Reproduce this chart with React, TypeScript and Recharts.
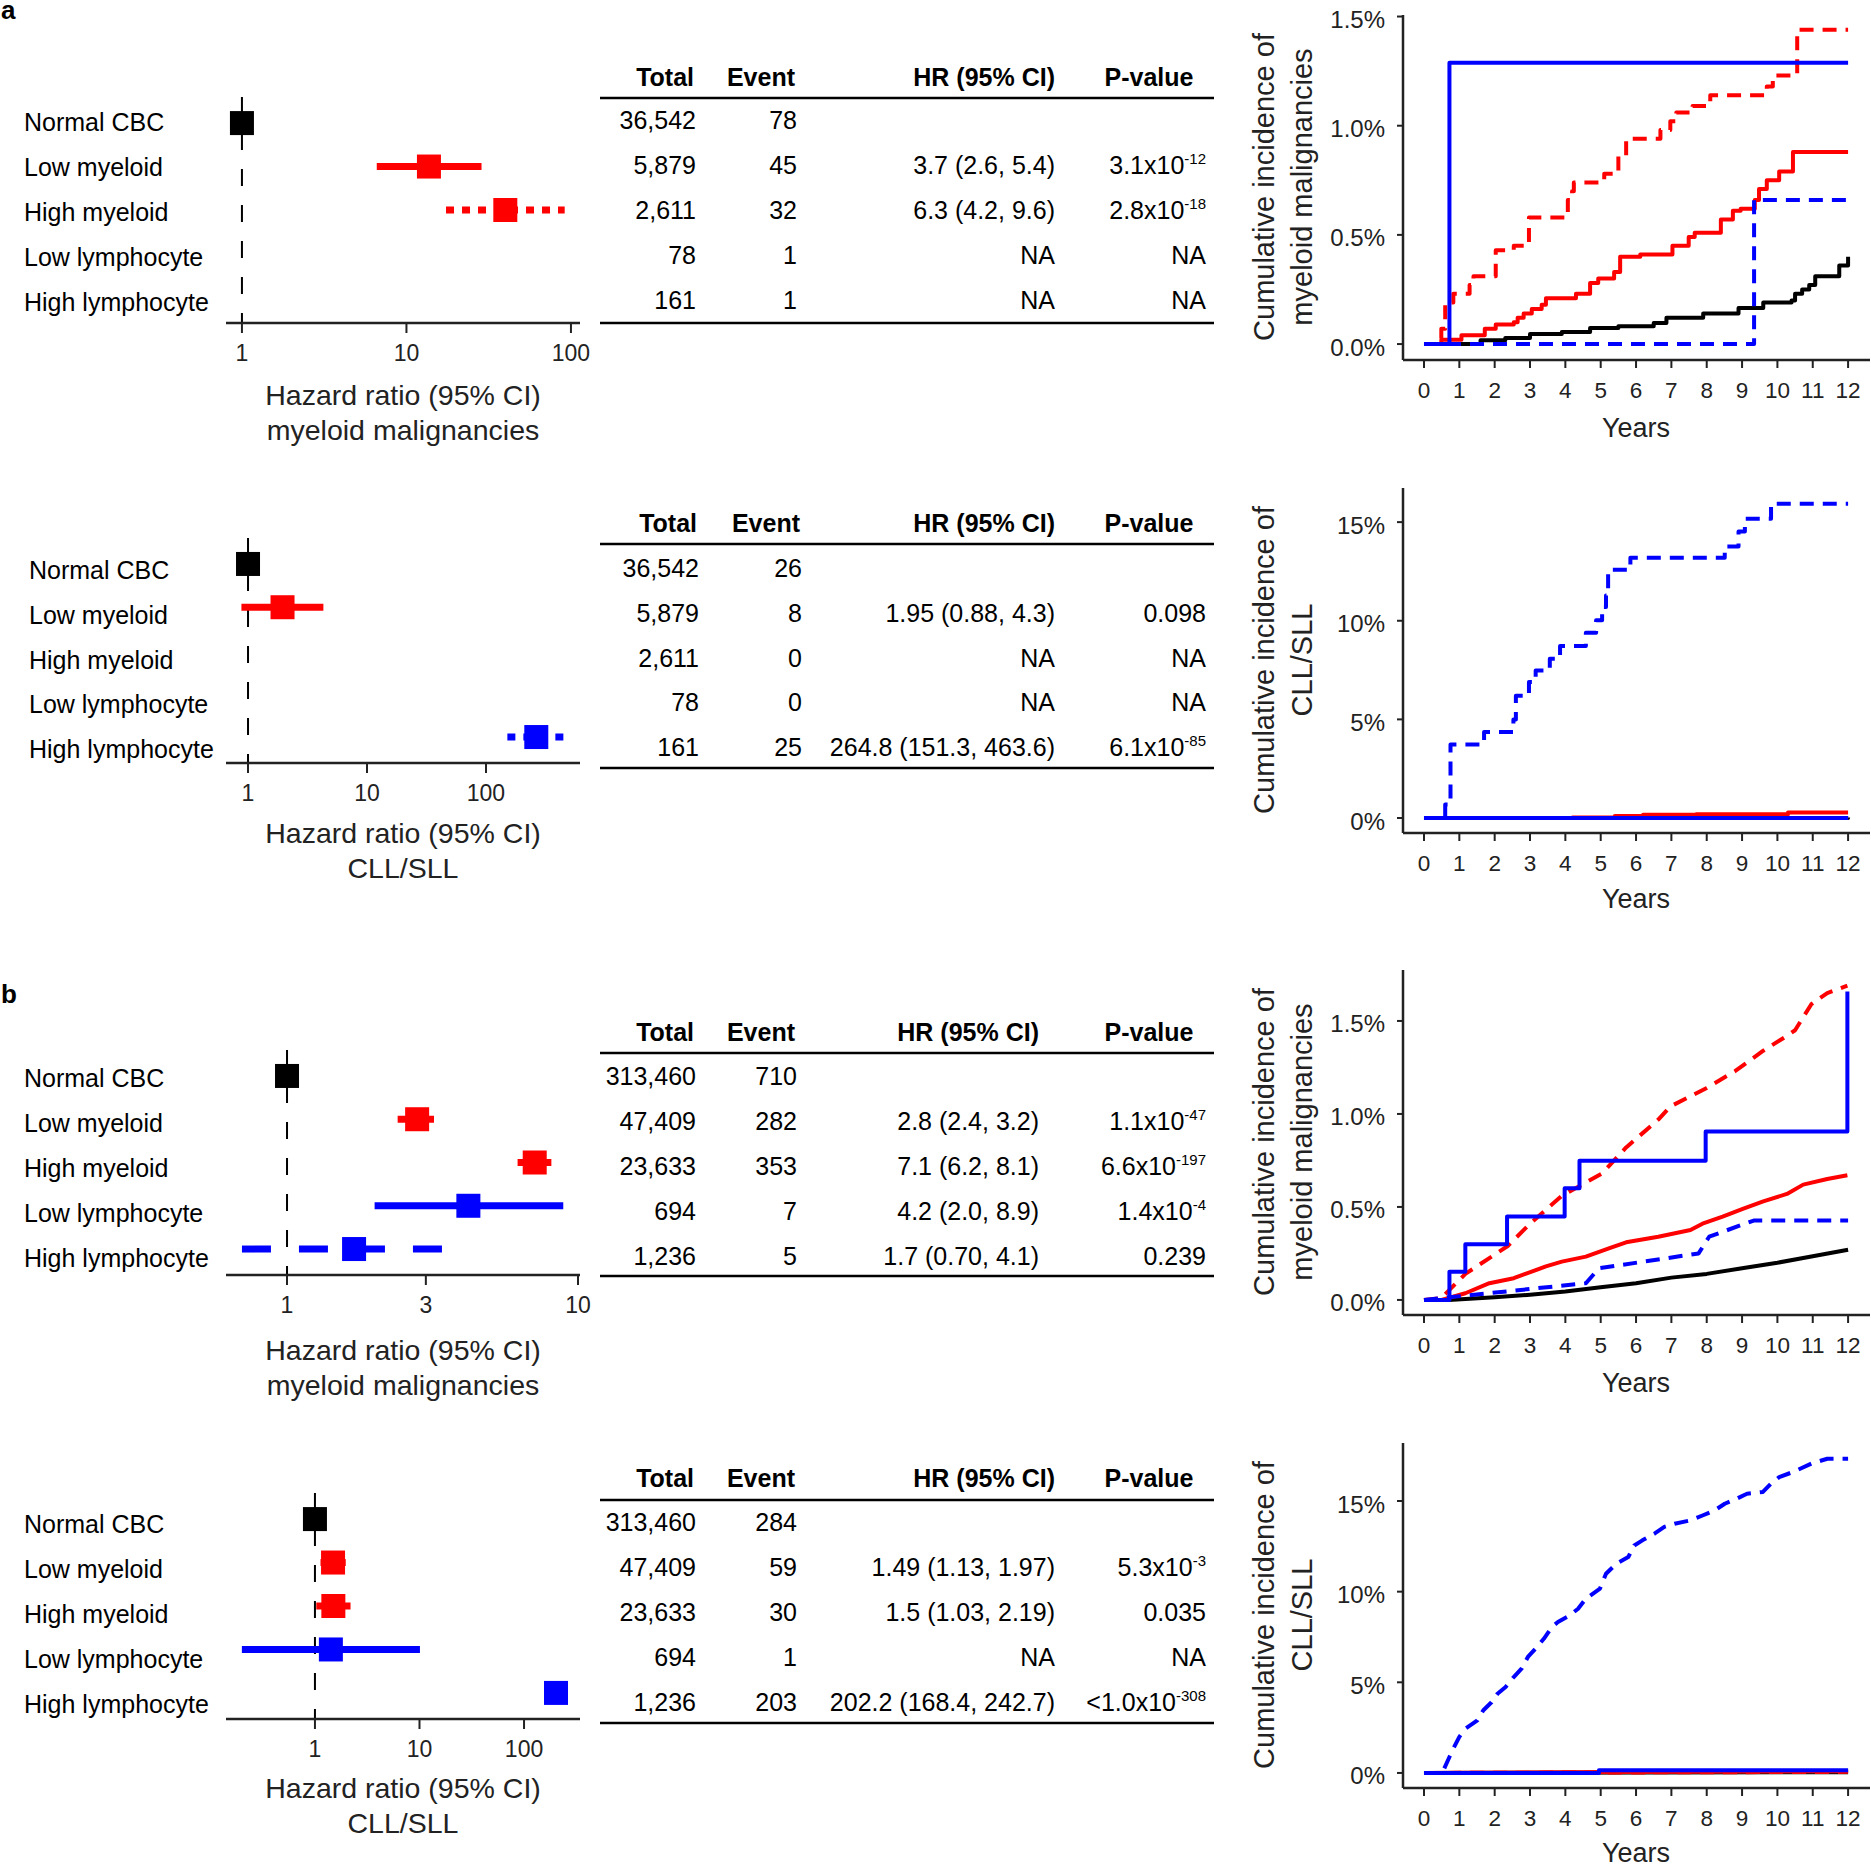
import React from "react";
import { ComposedChart, LineChart, Line, Scatter, XAxis, YAxis } from "recharts";

const FONT = "'Liberation Sans', Arial, Helvetica, sans-serif";
const RED = "#FF0000";
const BLUE = "#0000FF";
const BLACK = "#000000";
const INK = "#222222";

const ROWS = ["Normal CBC", "Low myeloid", "High myeloid", "Low lymphocyte", "High lymphocyte"];
const ROW_COLORS = [BLACK, RED, RED, BLUE, BLUE];

// forest plots: point estimate, lower, upper per row (null = not drawn)
const A1_EST = [1, 13.7, 39.9, null, null];
const A1_LO = [null, 6.6, 17.4, null, null];
const A1_HI = [null, 28.6, 91.6, null, null];
const A1_LTY = ["solid", "solid", "dotted", "solid", "solid"];

const A2_EST = [1, 1.95, null, null, 264.8];
const A2_LO = [null, 0.88, null, null, 151.3];
const A2_HI = [null, 4.3, null, null, 463.6];
const A2_LTY = ["solid", "solid", "solid", "solid", "dotted"];

const B1_EST = [1, 2.8, 7.1, 4.2, 1.7];
const B1_LO = [null, 2.4, 6.2, 2.0, 0.7];
const B1_HI = [null, 3.2, 8.1, 8.9, 4.1];
const B1_LTY = ["solid", "solid", "solid", "solid", "dashed"];

const B2_EST = [1, 1.49, 1.5, 1.42, 202.2];
const B2_LO = [null, 1.13, 1.03, 0.2, 168.4];
const B2_HI = [null, 1.97, 2.19, 10.1, 242.7];
const B2_LTY = ["solid", "solid", "solid", "solid", "solid"];

// tables
const A1_TOTAL = ["36,542", "5,879", "2,611", "78", "161"];
const A1_EVENT = ["78", "45", "32", "1", "1"];
const A1_HRTXT = ["", "3.7 (2.6, 5.4)", "6.3 (4.2, 9.6)", "NA", "NA"];
const A1_P = ["", "3.1x10^-12", "2.8x10^-18", "NA", "NA"];

const A2_TOTAL = ["36,542", "5,879", "2,611", "78", "161"];
const A2_EVENT = ["26", "8", "0", "0", "25"];
const A2_HRTXT = ["", "1.95 (0.88, 4.3)", "NA", "NA", "264.8 (151.3, 463.6)"];
const A2_P = ["", "0.098", "NA", "NA", "6.1x10^-85"];

const B1_TOTAL = ["313,460", "47,409", "23,633", "694", "1,236"];
const B1_EVENT = ["710", "282", "353", "7", "5"];
const B1_HRTXT = ["", "2.8 (2.4, 3.2)", "7.1 (6.2, 8.1)", "4.2 (2.0, 8.9)", "1.7 (0.70, 4.1)"];
const B1_P = ["", "1.1x10^-47", "6.6x10^-197", "1.4x10^-4", "0.239"];

const B2_TOTAL = ["313,460", "47,409", "23,633", "694", "1,236"];
const B2_EVENT = ["284", "59", "30", "1", "203"];
const B2_HRTXT = ["", "1.49 (1.13, 1.97)", "1.5 (1.03, 2.19)", "NA", "202.2 (168.4, 242.7)"];
const B2_P = ["", "5.3x10^-3", "0.035", "NA", "<1.0x10^-308"];

// cumulative incidence curves, [years, percent]
const A1_NORMAL = [[0, 0], [0.7, 0], [1.6, 0.017], [2.3, 0.028], [3.0, 0.046], [3.9, 0.055], [4.7, 0.074], [5.5, 0.081], [6.5, 0.096], [6.86, 0.12], [7.9, 0.14], [8.9, 0.165], [9.6, 0.19], [10.4, 0.2], [10.5, 0.23], [10.7, 0.25], [10.9, 0.27], [11.07, 0.31], [11.7, 0.31], [11.75, 0.36], [11.97, 0.36], [12, 0.4]];
const A1_LOWMYE = [[0, 0], [0.49, 0.02], [1.06, 0.04], [1.72, 0.07], [2.03, 0.09], [2.54, 0.1], [2.65, 0.12], [2.82, 0.14], [3.05, 0.16], [3.33, 0.18], [3.45, 0.21], [4.3, 0.23], [4.7, 0.28], [4.93, 0.3], [5.38, 0.33], [5.55, 0.4], [6.12, 0.41], [7.03, 0.45], [7.49, 0.49], [7.66, 0.51], [8.4, 0.57], [8.74, 0.61], [8.96, 0.62], [9.36, 0.66], [9.48, 0.71], [9.7, 0.75], [10.05, 0.79], [10.44, 0.88], [12, 0.88]];
const A1_HIGHMYE = [[0, 0], [0.49, 0.07], [0.6, 0.19], [0.83, 0.23], [1.29, 0.27], [1.4, 0.31], [2.03, 0.43], [2.54, 0.45], [2.97, 0.58], [4.07, 0.66], [4.19, 0.7], [4.24, 0.74], [5.1, 0.78], [5.5, 0.86], [5.72, 0.94], [6.69, 0.98], [6.97, 1.02], [7.14, 1.06], [7.6, 1.09], [8.1, 1.14], [9.7, 1.18], [9.87, 1.23], [10.56, 1.44], [12, 1.44]];
const A1_LOWLYM = [[0, 0], [0.72, 1.288], [12, 1.288]];
const A1_HIGHLYM = [[0, 0], [9.34, 0.66], [12, 0.66]];

const A2_NORMAL = [[0, 0], [12, 0.03]];
const A2_LOWMYE = [[0, 0], [4.2, 0.03], [5.4, 0.1], [6.2, 0.16], [7.7, 0.19], [10.3, 0.28], [12, 0.28]];
const A2_HIGHMYE = [[0, 0], [12, 0]];
const A2_LOWLYM = [[0, 0], [12, 0]];
const A2_HIGHLYM = [[0, 0], [0.6, 0.68], [0.75, 3.73], [1.7, 4.36], [2.53, 5.0], [2.6, 6.2], [2.97, 6.9], [3.16, 7.48], [3.56, 8.07], [3.85, 8.72], [4.58, 9.39], [4.87, 10.02], [5.04, 10.7], [5.15, 11.28], [5.21, 12.58], [5.84, 13.19], [8.51, 13.77], [8.9, 14.53], [9.08, 15.17], [9.82, 15.93], [12, 15.93]];

const B1_NORMAL = [[0, 0], [0.7, 0], [2, 0.015], [3, 0.028], [4, 0.045], [5, 0.068], [6, 0.09], [7, 0.12], [8, 0.14], [9, 0.17], [10, 0.2], [11, 0.235], [12, 0.27]];
const B1_LOWMYE = [[0, 0], [0.5, 0], [1.17, 0.036], [1.85, 0.09], [2.54, 0.117], [3.45, 0.18], [3.9, 0.206], [4.58, 0.233], [5.27, 0.28], [5.72, 0.31], [6.63, 0.34], [7.54, 0.376], [7.88, 0.41], [8.45, 0.448], [9.02, 0.49], [9.6, 0.53], [10.27, 0.57], [10.73, 0.62], [11.41, 0.65], [11.98, 0.67]];
const B1_HIGHMYE = [[0, 0], [0.49, 0.01], [1.17, 0.14], [2.37, 0.29], [3.0, 0.41], [3.9, 0.56], [5.04, 0.68], [5.72, 0.82], [6.63, 0.97], [6.97, 1.04], [8.0, 1.14], [8.8, 1.23], [9.6, 1.34], [10.27, 1.42], [10.5, 1.45], [10.96, 1.59], [11.41, 1.65], [11.98, 1.69]];
const B1_LOWLYM = [[0, 0], [0.72, 0.152], [1.17, 0.3], [2.35, 0.448], [3.98, 0.6], [4.4, 0.749], [7.97, 0.905], [11.98, 1.658]];
const B1_HIGHLYM = [[0, 0], [4.58, 0.09], [4.95, 0.17], [7.77, 0.25], [8.07, 0.34], [9.33, 0.427], [12, 0.427]];

const B2_NORMAL = [[0, 0], [12, 0.04]];
const B2_LOWMYE = [[0, 0], [1, 0.01], [4, 0.04], [8, 0.07], [12, 0.1]];
const B2_HIGHMYE = [[0, 0], [12, 0.06]];
const B2_LOWLYM = [[0, 0], [4.95, 0.15], [12, 0.15]];
const B2_HIGHLYM = [[0, 0], [0.5, 0], [0.55, 0.15], [0.72, 0.88], [0.83, 1.34], [1.0, 1.99], [1.17, 2.44], [1.51, 2.9], [1.68, 3.46], [1.91, 3.9], [2.08, 4.37], [2.31, 4.74], [2.54, 5.29], [2.76, 5.75], [2.94, 6.4], [3.16, 6.86], [3.39, 7.4], [3.62, 8.05], [3.79, 8.33], [4.13, 8.7], [4.36, 9.06], [4.58, 9.61], [4.98, 10.17], [5.15, 10.99], [5.44, 11.54], [5.78, 11.91], [5.95, 12.55], [6.18, 12.83], [6.52, 13.2], [6.8, 13.57], [7.09, 13.75], [7.54, 13.93], [7.88, 14.2], [8.23, 14.49], [8.51, 14.85], [8.85, 15.13], [9.14, 15.4], [9.59, 15.5], [9.82, 15.96], [10.05, 16.32], [10.44, 16.6], [10.96, 17.06], [11.41, 17.33], [12, 17.33]];

const YEARS = [0, 1, 2, 3, 4, 5, 6, 7, 8, 9, 10, 11, 12];

const DASH: Record<string, string | undefined> = { solid: undefined, dotted: "8 8", dashed: "29 28" };

const toPts = (arr: number[][]) => arr.map(([t, v]) => ({ t, v }));

function Square(props: any) {
  const { cx, cy, payload } = props;
  if (cx == null || cy == null) return <g />;
  return <rect x={cx - 12} y={cy - 12} width={24} height={24} fill={payload.color} />;
}

function Forest({ top, bottom, domain, ticks, est, lo, hi, lty }: any) {
  const h = bottom - top;
  const pts = est
    .map((e: number | null, i: number) => (e == null ? null : { x: e, y: i + 1, color: ROW_COLORS[i] }))
    .filter(Boolean);
  return (
    <div style={{ position: "absolute", left: 0, top: top - 10 }}>
      <ComposedChart width={600} height={h + 70} margin={{ top: 10, right: 20, bottom: 0, left: 226 }}>
        <XAxis
          type="number"
          dataKey="x"
          scale="log"
          domain={domain}
          ticks={ticks}
          interval={0}
          allowDataOverflow
          height={60}
          tickSize={10}
          tickMargin={12}
          axisLine={{ stroke: INK, strokeWidth: 2.5 }}
          tickLine={{ stroke: INK, strokeWidth: 2 }}
          tick={{ fontSize: 23, fill: INK, fontFamily: FONT }}
          tickFormatter={(v) => String(v)}
        />
        <YAxis type="number" dataKey="y" domain={[0.4, 5.6]} reversed hide allowDataOverflow />
        <Line
          data={[{ x: 1, y: 0.4 }, { x: 1, y: 5.6 }]}
          dataKey="y"
          stroke={BLACK}
          strokeWidth={2}
          strokeDasharray="17 19"
          dot={false}
          isAnimationActive={false}
        />
        {est.map((e: number | null, i: number) =>
          lo[i] == null ? null : (
            <Line
              key={i}
              data={[{ x: lo[i], y: i + 1 }, { x: hi[i], y: i + 1 }]}
              dataKey="y"
              stroke={ROW_COLORS[i]}
              strokeWidth={7}
              strokeDasharray={DASH[lty[i]]}
              dot={false}
              isAnimationActive={false}
            />
          )
        )}
        <Scatter data={pts} shape={<Square />} isAnimationActive={false} />
      </ComposedChart>
    </div>
  );
}

function Incidence({ top, domain, ticks, fmt, normal, lowMye, highMye, lowLym, highLym, smooth }: any) {
  const series = [
    { d: normal, c: BLACK, dash: undefined, curve: smooth ? "linear" : "stepAfter" },
    { d: lowMye, c: RED, dash: undefined, curve: smooth ? "linear" : "stepAfter" },
    { d: highMye, c: RED, dash: "14 9", curve: smooth ? "linear" : "stepAfter" },
    { d: lowLym, c: BLUE, dash: undefined, curve: "stepAfter" },
    { d: highLym, c: BLUE, dash: "14 9", curve: smooth ? "linear" : "stepAfter" },
  ];
  return (
    <div style={{ position: "absolute", left: 1240, top: top - 10 }}>
      <LineChart width={631} height={405} margin={{ top: 10, right: 1, bottom: 0, left: 0 }}>
        <XAxis
          type="number"
          dataKey="t"
          domain={[-0.594, 12.62]}
          ticks={YEARS}
          interval={0}
          allowDataOverflow
          height={50}
          tickSize={8}
          tickMargin={14}
          axisLine={{ stroke: INK, strokeWidth: 2.5 }}
          tickLine={{ stroke: INK, strokeWidth: 2 }}
          tick={{ fontSize: 22.5, fill: INK, fontFamily: FONT }}
        />
        <YAxis
          type="number"
          domain={domain}
          ticks={ticks}
          interval={0}
          allowDataOverflow
          width={163}
          tickSize={6}
          tickMargin={12}
          axisLine={{ stroke: INK, strokeWidth: 2.5 }}
          tickLine={{ stroke: INK, strokeWidth: 2 }}
          tick={{ fontSize: 24, fill: INK, fontFamily: FONT, dy: 3 }}
          tickFormatter={fmt}
        />
        {series.map((s, i) => (
          <Line
            key={i}
            data={toPts(s.d)}
            dataKey="v"
            type={s.curve as any}
            stroke={s.c}
            strokeWidth={4}
            strokeDasharray={s.dash}
            strokeLinejoin="round"
            dot={false}
            activeDot={false}
            isAnimationActive={false}
          />
        ))}
      </LineChart>
    </div>
  );
}

function PText({ x, y, s }: { x: number; y: number; s: string }) {
  const [base, exp] = s.split("^");
  return (
    <text x={x} y={y + 9} textAnchor="end" fontSize={25} fill={BLACK}>
      {base}
      {exp ? (
        <tspan dy={-10} fontSize={15}>
          {exp}
        </tspan>
      ) : null}
    </text>
  );
}

function Table({ head, rule1, rule2, row0, step, labelX, cTotal, cEvent, cHr, total, event, hr, p }: any) {
  const rows = ROWS.map((_, i) => row0 + step * i);
  return (
    <g>
      <text x={cTotal} y={head + 9} textAnchor="end" fontSize={25} fontWeight="bold">Total</text>
      <text x={cEvent} y={head + 9} textAnchor="end" fontSize={25} fontWeight="bold">Event</text>
      <text x={cHr} y={head + 9} textAnchor="end" fontSize={25} fontWeight="bold">HR (95% CI)</text>
      <text x={1149} y={head + 9} textAnchor="middle" fontSize={25} fontWeight="bold">P-value</text>
      <line x1={600} x2={1214} y1={rule1} y2={rule1} stroke={BLACK} strokeWidth={2.5} />
      <line x1={600} x2={1214} y1={rule2} y2={rule2} stroke={BLACK} strokeWidth={2.5} />
      {rows.map((y, i) => (
        <g key={i}>
          <text x={labelX} y={y + 11} fontSize={25} fill={BLACK}>{ROWS[i]}</text>
          <text x={cTotal + 2} y={y + 9} textAnchor="end" fontSize={25}>{total[i]}</text>
          <text x={cEvent + 2} y={y + 9} textAnchor="end" fontSize={25}>{event[i]}</text>
          <text x={cHr} y={y + 9} textAnchor="end" fontSize={25}>{hr[i]}</text>
          {p[i] ? <PText x={1206} y={y} s={p[i]} /> : null}
        </g>
      ))}
    </g>
  );
}

function HrTitle({ y, sub }: { y: number; sub: string }) {
  return (
    <g fontSize={28.5} fill={INK} textAnchor="middle">
      <text x={403} y={y + 10}>Hazard ratio (95% CI)</text>
      <text x={403} y={y + 45}>{sub}</text>
    </g>
  );
}

function IncTitle({ yc, yYears, sub }: { yc: number; yYears: number; sub: string }) {
  return (
    <g fill={INK}>
      <text transform={`translate(1274, ${yc}) rotate(-90)`} textAnchor="middle" fontSize={29}>
        Cumulative incidence of
      </text>
      <text transform={`translate(1312, ${yc}) rotate(-90)`} textAnchor="middle" fontSize={29}>
        {sub}
      </text>
      <text x={1636} y={yYears + 10} textAnchor="middle" fontSize={27}>Years</text>
    </g>
  );
}

export default function App() {
  const pct1 = (v: number) => `${v.toFixed(1)}%`;
  const pct0 = (v: number) => `${v}%`;
  return (
    <div style={{ position: "absolute", left: 0, top: 0, width: 1871, height: 1867, background: "#fff", fontFamily: FONT, overflow: "hidden" }}>
      <Forest top={97} bottom={323} domain={[0.8, 113.5]} ticks={[1, 10, 100]} est={A1_EST} lo={A1_LO} hi={A1_HI} lty={A1_LTY} />
      <Forest top={538} bottom={763} domain={[0.653, 617]} ticks={[1, 10, 100]} est={A2_EST} lo={A2_LO} hi={A2_HI} lty={A2_LTY} />
      <Forest top={1050} bottom={1275} domain={[0.617, 10.16]} ticks={[1, 3, 10]} est={B1_EST} lo={B1_LO} hi={B1_HI} lty={B1_LTY} />
      <Forest top={1493} bottom={1719} domain={[0.141, 343]} ticks={[1, 10, 100]} est={B2_EST} lo={B2_LO} hi={B2_HI} lty={B2_LTY} />

      <Incidence top={15} domain={[-0.073, 1.507]} ticks={[0, 0.5, 1, 1.5]} fmt={pct1}
        normal={A1_NORMAL} lowMye={A1_LOWMYE} highMye={A1_HIGHMYE} lowLym={A1_LOWLYM} highLym={A1_HIGHLYM} />
      <Incidence top={488} domain={[-0.76, 16.73]} ticks={[0, 5, 10, 15]} fmt={pct0}
        normal={A2_NORMAL} lowMye={A2_LOWMYE} highMye={A2_HIGHMYE} lowLym={A2_LOWLYM} highLym={A2_HIGHLYM} />
      <Incidence top={970} domain={[-0.081, 1.774]} ticks={[0, 0.5, 1, 1.5]} fmt={pct1} smooth
        normal={B1_NORMAL} lowMye={B1_LOWMYE} highMye={B1_HIGHMYE} lowLym={B1_LOWLYM} highLym={B1_HIGHLYM} />
      <Incidence top={1443} domain={[-0.83, 18.2]} ticks={[0, 5, 10, 15]} fmt={pct0} smooth
        normal={B2_NORMAL} lowMye={B2_LOWMYE} highMye={B2_HIGHMYE} lowLym={B2_LOWLYM} highLym={B2_HIGHLYM} />

      <svg width={1871} height={1867} style={{ position: "absolute", left: 0, top: 0, pointerEvents: "none" }} fontFamily={FONT}>
        <text x={1} y={19} fontSize={26} fontWeight="bold">a</text>
        <text x={1} y={1003} fontSize={26} fontWeight="bold">b</text>

        <Table head={77} rule1={98} rule2={323} row0={120} step={45} labelX={24} cTotal={694} cEvent={795} cHr={1055}
          total={A1_TOTAL} event={A1_EVENT} hr={A1_HRTXT} p={A1_P} />
        <Table head={523} rule1={544} rule2={768} row0={568} step={44.8} labelX={29} cTotal={697} cEvent={800} cHr={1055}
          total={A2_TOTAL} event={A2_EVENT} hr={A2_HRTXT} p={A2_P} />
        <Table head={1032} rule1={1053} rule2={1276} row0={1076} step={45} labelX={24} cTotal={694} cEvent={795} cHr={1039}
          total={B1_TOTAL} event={B1_EVENT} hr={B1_HRTXT} p={B1_P} />
        <Table head={1478} rule1={1500} rule2={1723} row0={1522} step={45} labelX={24} cTotal={694} cEvent={795} cHr={1055}
          total={B2_TOTAL} event={B2_EVENT} hr={B2_HRTXT} p={B2_P} />

        <HrTitle y={395} sub="myeloid malignancies" />
        <HrTitle y={833} sub="CLL/SLL" />
        <HrTitle y={1350} sub="myeloid malignancies" />
        <HrTitle y={1788} sub="CLL/SLL" />

        <IncTitle yc={187} yYears={427} sub="myeloid malignancies" />
        <IncTitle yc={660} yYears={898} sub="CLL/SLL" />
        <IncTitle yc={1142} yYears={1382} sub="myeloid malignancies" />
        <IncTitle yc={1615} yYears={1852} sub="CLL/SLL" />
      </svg>
    </div>
  );
}
